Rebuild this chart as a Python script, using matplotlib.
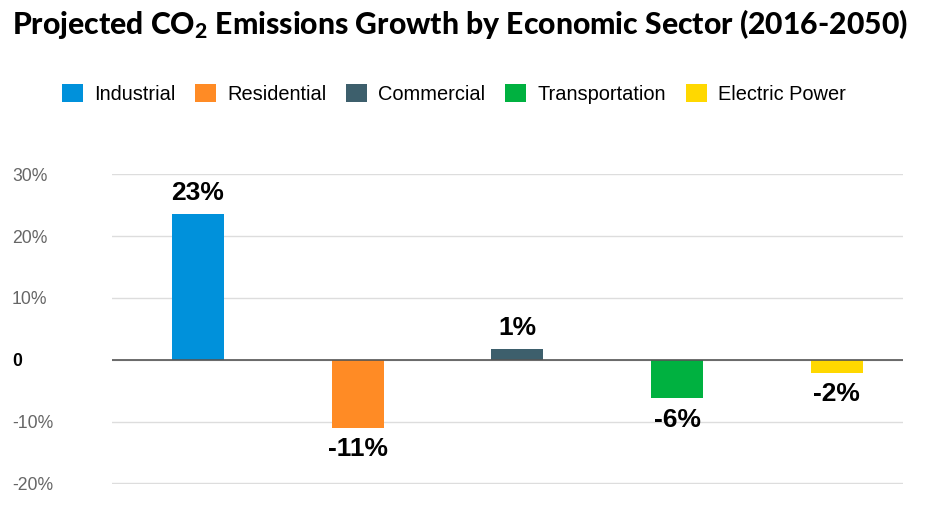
import matplotlib.pyplot as plt
from matplotlib.patches import Patch

sectores = ["Industrial", "Residential", "Commercial", "Transportation", "Electric Power"]
valores = [23.5, -11.0, 1.7, -6.2, -2.1]
etiquetas = ["23%", "-11%", "1%", "-6%", "-2%"]
colores = ["#0091DB", "#FF8B25", "#3D5F6C", "#00B140", "#FFD800"]
ticks = [-20, -10, 0, 10, 20, 30]
tick_labels = ["-20%", "-10%", "0", "10%", "20%", "30%"]

plt.rcParams["font.family"] = ["Liberation Sans", "DejaVu Sans"]
plt.rcParams["mathtext.fontset"] = "custom"
plt.rcParams["mathtext.rm"] = "Lato:black"
plt.rcParams["mathtext.it"] = "Lato:black"

fig = plt.figure(figsize=(9.28, 5.18), dpi=100)
ax = fig.add_axes([0.1207, 0.0656, 0.852, 0.598])

x = list(range(len(sectores)))
ax.bar(x, valores, width=0.325, color=colores, zorder=2)

for xi, v, lab in zip(x, valores, etiquetas):
    if v >= 0:
        ax.annotate(lab, (xi, v), xytext=(0, 7), textcoords="offset points",
                    ha="center", va="bottom", fontsize=19, fontweight="bold")
    else:
        ax.annotate(lab, (xi, v), xytext=(0, -7), textcoords="offset points",
                    ha="center", va="top", fontsize=19, fontweight="bold")

ax.set_xlim(-0.538, 4.413)
ax.set_ylim(-20.1, 30)
ax.set_yticks(ticks)
ax.set_yticklabels(tick_labels)
ax.set_xticks([])
ax.grid(axis="y", color="#dddddd", linewidth=1, zorder=0)
ax.axhline(0, color="#555555", linewidth=1.2, zorder=3)
for s in ax.spines.values():
    s.set_visible(False)
ax.tick_params(axis="y", length=0, pad=72, labelsize=12.7, labelcolor="#666666")
for t in ax.get_yticklabels():
    t.set_horizontalalignment("left")
    if t.get_text() == "0":
        t.set_color("black")
        t.set_fontweight("bold")

fig.text(0.013, 0.953, r"Projected CO$_2$ Emissions Growth by Economic Sector (2016-2050)",
         fontsize=21.7, family="Lato", fontweight="black", ha="left", va="center")

handles = [Patch(facecolor=c, label=s) for c, s in zip(colores, sectores)]
fig.legend(handles=handles, loc="center", bbox_to_anchor=(0.489, 0.819), ncol=5,
           frameon=False, fontsize=14.4, handlelength=1.05, handleheight=1.05,
           columnspacing=1.0, handletextpad=0.55)

fig.savefig("out.png", dpi=100)
